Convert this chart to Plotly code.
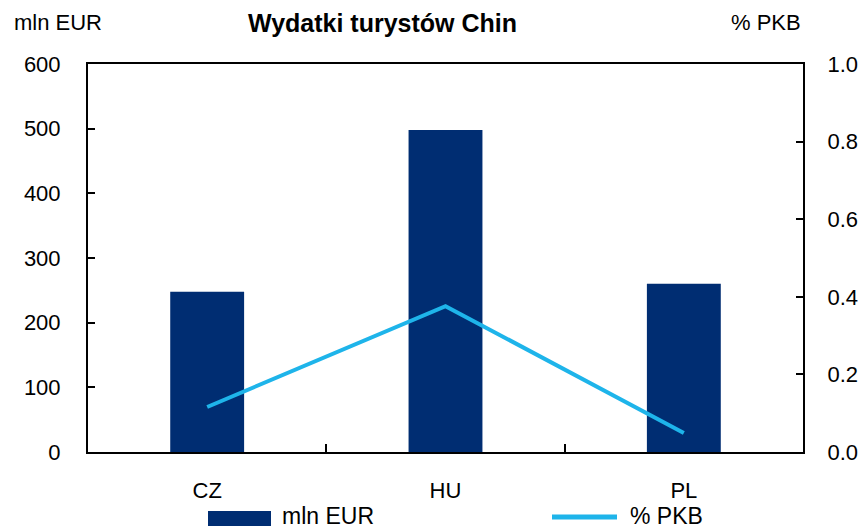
import plotly.graph_objects as go

categories = ["CZ", "HU", "PL"]
spend_mln_eur = [248, 498, 260]
share_gdp = [0.116, 0.376, 0.049]

left_ticks = [0, 100, 200, 300, 400, 500, 600]
right_ticks = [0.0, 0.2, 0.4, 0.6, 0.8, 1.0]
right_tick_text = ["0.0", "0.2", "0.4", "0.6", "0.8", "1.0"]

BAR = "#002D72"
LINE = "#1EB4EA"
FONT = "Liberation Sans, Arial, sans-serif"

W, H = 867, 530
ml, mr, mt, mb = 88, 64, 64, 78

fig = go.Figure()
fig.add_trace(go.Bar(x=categories, y=spend_mln_eur, name="mln EUR",
                     marker=dict(color=BAR, line=dict(width=0)), width=0.31,
                     showlegend=False))
fig.add_trace(go.Scatter(x=categories, y=share_gdp, name="% PKB", yaxis="y2",
                         mode="lines", line=dict(color=LINE, width=4),
                         showlegend=False))

axis_font = dict(family=FONT, size=22, color="black")
fig.update_layout(
    width=W, height=H,
    margin=dict(l=ml, r=mr, t=mt, b=mb, autoexpand=False),
    paper_bgcolor="white", plot_bgcolor="white",
    font=dict(family=FONT, color="black"),
    xaxis=dict(showline=True, linecolor="black", linewidth=2, mirror=True,
               ticks="inside", ticklen=8, tickwidth=2, tickcolor="black",
               tickson="boundaries", tickfont=axis_font, showgrid=False,
               ticklabelstandoff=18, automargin=False),
    yaxis=dict(range=[0, 600], tickvals=left_ticks, showline=True,
               linecolor="black", linewidth=2, ticks="inside", ticklen=7,
               tickwidth=2, tickcolor="black", tickfont=axis_font,
               showgrid=False, zeroline=False, ticklabelstandoff=21,
               automargin=False),
    yaxis2=dict(range=[0, 1.0], tickvals=right_ticks, ticktext=right_tick_text,
                overlaying="y", side="right", showline=True, linecolor="black",
                linewidth=2, ticks="inside", ticklen=7, tickwidth=2,
                tickcolor="black", tickfont=axis_font, showgrid=False,
                zeroline=False, ticklabelstandoff=18, automargin=False),
)

pw = W - ml - mr
ph = H - mt - mb


def ax(x):
    return (x - ml) / pw


def ay(y):
    return (H - mb - y) / ph


texts = [
    ("mln EUR", 12, 23, "left", 22, False),
    ("Wydatki turystów Chin", 382, 23, "center", 25, True),
    ("% PKB", 803, 23, "right", 22, False),
    ("mln EUR", 280, 516, "left", 23, False),
    ("% PKB", 628, 516, "left", 23, False),
]
for t, xx, yy, anchor, size, bold in texts:
    fig.add_annotation(text=f"<b>{t}</b>" if bold else t,
                       x=ax(xx), y=ay(yy), xref="paper", yref="paper",
                       xanchor=anchor, yanchor="middle", showarrow=False,
                       font=dict(family=FONT, size=size, color="black"))

fig.add_shape(type="rect", xref="paper", yref="paper",
              x0=ax(208), x1=ax(271), y0=ay(526), y1=ay(511),
              fillcolor=BAR, line=dict(width=0))
fig.add_shape(type="line", xref="paper", yref="paper",
              x0=ax(552), x1=ax(617), y0=ay(517), y1=ay(517),
              line=dict(color=LINE, width=5))

fig.write_html("out.html", config={"displayModeBar": False},
               post_script="document.body.style.margin='0';document.body.style.overflow='hidden';")
